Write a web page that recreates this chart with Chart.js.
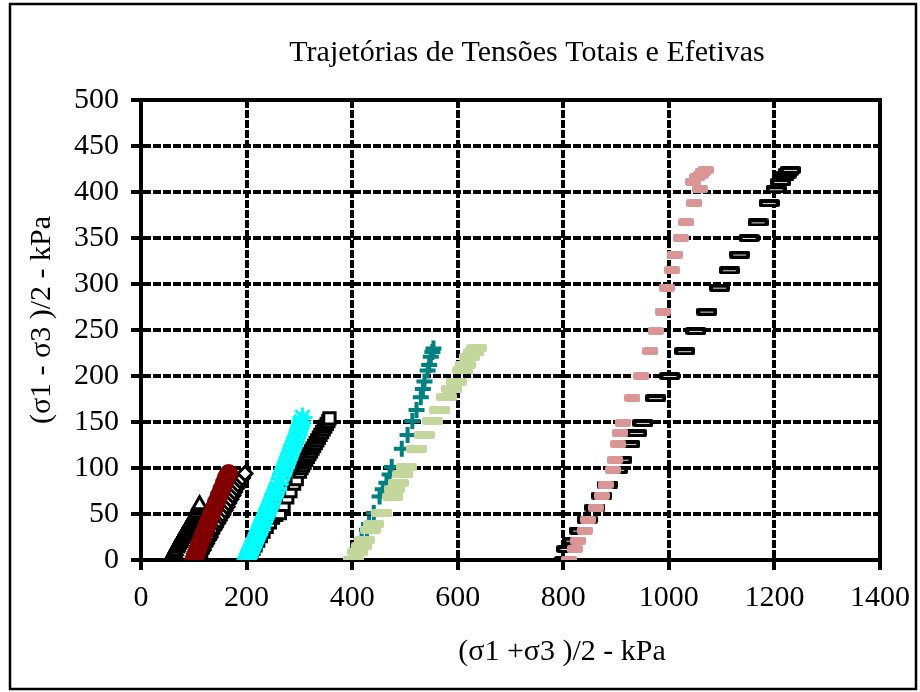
<!DOCTYPE html>
<html>
<head>
<meta charset="utf-8">
<title>Trajetórias de Tensões</title>
<script src="https://cdn.jsdelivr.net/npm/chart.js@4.4.0/dist/chart.umd.min.js"></script>
<style>
    html, body { margin: 0; padding: 0; background: #fff; }
</style>
</head>
<body>
<canvas id="chart" width="920" height="692"></canvas>
<script>
// Labels
const chartTitle = 'Trajetórias de Tensões Totais e Efetivas';
const xTitle = '(σ1 +σ3 )/2 - kPa';
const yTitle = '(σ1 - σ3 )/2 - kPa';
const xTicks = [0, 200, 400, 600, 800, 1000, 1200, 1400];
const yTicks = [0, 50, 100, 150, 200, 250, 300, 350, 400, 450, 500];

// Low confining pressure: triangles, circles, diamonds
const triX = [55, 57, 59, 61, 63, 65, 67, 69, 71, 73, 75, 77, 79, 81, 83, 85, 87, 89, 91, 93, 95, 97, 99, 101, 103, 105, 107, 109, 111];
const triY = [0, 2, 4, 6, 8, 10, 13, 15, 17, 19, 21, 23, 25, 27, 29, 31, 33, 35, 37, 39, 41, 43, 45, 47, 49, 51, 54, 57, 60];
const redX = [100, 103, 107, 111, 115, 119, 124, 128, 133, 138, 143, 148, 153, 158, 162, 166];
const redY = [0, 5, 11, 17, 23, 29, 36, 42, 49, 56, 63, 70, 77, 84, 90, 94];
const diaX = [108, 111, 114, 118, 121, 124, 128, 131, 134, 138, 141, 145, 148, 152, 155, 159, 163, 166, 170, 174, 177, 181, 184, 188, 192, 197];
const diaY = [0, 3, 7, 11, 15, 18, 22, 25, 29, 33, 36, 40, 43, 47, 50, 54, 58, 62, 66, 70, 74, 78, 82, 86, 89, 94];

// 200 kPa: crosses and squares
const cyX = [200, 202, 204, 207, 210, 213, 216, 219, 222, 225, 228, 231, 234, 237, 240, 243, 246, 249, 252,
    255, 258, 261, 264, 267, 270, 273, 276, 279, 282, 285, 288, 291, 294, 297, 300, 302, 304, 306];
const cyY = [0, 3, 6, 9, 13, 17, 21, 25, 29, 33, 37, 41, 45, 49, 53, 57, 61, 66, 70,
    74, 78, 83, 88, 93, 97, 101, 106, 110, 115, 119, 124, 128, 133, 137, 142, 146, 150, 155];
const sqX = [201, 205, 209, 213, 217, 222, 227, 232, 238, 244, 250, 256, 263, 270, 277, 283, 290, 295, 301,
    304, 307, 310, 313, 316, 319, 322, 325, 328, 331, 334, 337, 340, 343, 346, 349, 352, 355, 357];
const sqY = [0, 4, 8, 12, 16, 21, 26, 31, 36, 41, 46, 49, 51, 60, 68, 75, 83, 88, 96,
    100, 103, 106, 109, 112, 115, 118, 121, 124, 127, 130, 133, 136, 139, 142, 145, 148, 151, 154];

// 400 kPa: plus (teal) and green bars share the q values
const midY = [0, 9, 15, 22, 33, 39, 51, 69, 77, 84, 93, 101, 121, 136, 151, 163, 177, 186, 194, 206, 212, 221, 226, 230];
const tealX = [401, 408, 412, 418, 428, 432, 441, 452, 458, 465, 471, 475, 494, 505, 514, 522, 530, 534, 537, 543, 546, 549, 552, 554];
const greenX = [402, 411, 418, 424, 435, 441, 456, 477, 481, 487, 496, 503, 522, 537, 552, 566, 579, 589, 597, 610, 614, 623, 630, 636];

// 800 kPa: pink bars and black bars share the q values
const hiY = [0, 12, 21, 32, 44, 57, 70, 82, 98, 109, 126, 138, 149, 176, 200, 227, 249, 270, 296, 315,
    332, 350, 367, 388, 403, 411, 416, 419, 422, 424];
const pinkX = [811, 822, 828, 841, 847, 862, 873, 880, 894, 898, 904, 907, 913, 931, 948, 965, 975, 989, 996, 1006,
    1011, 1023, 1033, 1048, 1059, 1046, 1054, 1060, 1065, 1070];
const blackX = [803, 807, 818, 831, 845, 860, 873, 884, 903, 911, 926, 939, 951, 975, 1002, 1030, 1051, 1072, 1096, 1115,
    1134, 1152, 1169, 1190, 1203, 1212, 1218, 1222, 1226, 1230];

const FONT = '"Liberation Serif", "Times New Roman", serif';

function pts(xs, ys) {
    return xs.map((x, i) => ({ x: x, y: ys[i] }));
}

// Bar-shaped marker images
function barMarker(w, h, fill, inner) {
    const c = document.createElement('canvas');
    c.width = w;
    c.height = h;
    const g = c.getContext('2d');
    g.fillStyle = fill;
    g.beginPath();
    g.roundRect(0, 0, w, h, 2);
    g.fill();
    if (inner) {
        g.fillStyle = inner;
        g.fillRect(4, Math.floor(h / 2), w - 8, 1);
    }
    return c;
}

const greenBar = barMarker(21, 8, '#c3d69b');
const pinkBar = barMarker(16, 8, '#d99694');
const blackBar = barMarker(21, 8, '#000', '#ddd');

const framePlugin = {
    id: 'frame',
    beforeDatasetsDraw(chart) {
        const a = chart.chartArea;
        const ctx = chart.ctx;
        ctx.save();
        ctx.strokeStyle = '#000';
        ctx.lineWidth = 4;
        ctx.strokeRect(a.left, a.top, a.right - a.left, a.bottom - a.top);
        ctx.restore();
    },
    afterDraw(chart) {
        const ctx = chart.ctx;
        ctx.save();
        ctx.strokeStyle = '#000';
        ctx.lineWidth = 2.5;
        ctx.strokeRect(10, 4, 906, 685);
        ctx.fillStyle = '#000';
        ctx.font = '30px ' + FONT;
        ctx.textAlign = 'center';
        ctx.textBaseline = 'middle';
        ctx.fillText(chartTitle, 527, 53);
        ctx.fillText(xTitle, 562, 652);
        ctx.translate(42, 320);
        ctx.rotate(-Math.PI / 2);
        ctx.fillText(yTitle, 0, 0);
        ctx.restore();
    }
};

const tickFont = { family: FONT, size: 30 };
const plain = (v) => String(v);

new Chart(document.getElementById('chart'), {
    type: 'scatter',
    data: {
        datasets: [
            { data: pts(redX, redY), pointStyle: 'circle', pointRadius: 9, backgroundColor: '#800000', borderColor: '#800000', borderWidth: 1 },
            { data: pts(cyX, cyY), pointStyle: 'star', pointRadius: 10, borderColor: '#00ffff', borderWidth: 3 },
            { data: pts(greenX, midY), pointStyle: greenBar, pointRadius: 5 },
            { data: pts(pinkX, hiY), pointStyle: pinkBar, pointRadius: 5 },
            { data: pts(triX, triY), pointStyle: 'triangle', pointRadius: 8, backgroundColor: '#fff', borderColor: '#000', borderWidth: 3 },
            { data: pts(diaX, diaY), pointStyle: 'rectRot', pointRadius: 7, backgroundColor: '#fff', borderColor: '#000', borderWidth: 3 },
            { data: pts(sqX, sqY), pointStyle: 'rect', pointRadius: 8, backgroundColor: '#fff', borderColor: '#000', borderWidth: 3 },
            { data: pts(tealX, midY), pointStyle: 'cross', pointRadius: 8, borderColor: '#008080', borderWidth: 4 },
            { data: pts(blackX, hiY), pointStyle: blackBar, pointRadius: 5 }
        ]
    },
    options: {
        responsive: false,
        animation: false,
        layout: { padding: { left: 10, right: 40, top: 100, bottom: 0 } },
        plugins: {
            legend: { display: false },
            tooltip: { enabled: false },
            title: { display: false }
        },
        elements: { point: { hoverRadius: 0 } },
        scales: {
            x: {
                type: 'linear',
                min: 0,
                max: 1400,
                afterBuildTicks: (scale) => { scale.ticks = xTicks.map(v => ({ value: v })); },
                afterFit: (scale) => { scale.height = 132; },
                ticks: { color: '#000', font: tickFont, padding: 10, maxRotation: 0, callback: plain },
                grid: { color: '#000', lineWidth: 4, tickLength: 10, tickWidth: 4, tickColor: '#000' },
                border: { display: true, color: '#000', width: 4, dash: [8, 2] }
            },
            y: {
                type: 'linear',
                min: 0,
                max: 500,
                afterBuildTicks: (scale) => { scale.ticks = yTicks.map(v => ({ value: v })); },
                afterFit: (scale) => { scale.width = 131; },
                ticks: { color: '#000', font: tickFont, padding: 12, callback: plain },
                grid: { color: '#000', lineWidth: 4, tickLength: 10, tickWidth: 4, tickColor: '#000' },
                border: { display: true, color: '#000', width: 4, dash: [8, 2] }
            }
        }
    },
    plugins: [framePlugin]
});
</script>
</body>
</html>
